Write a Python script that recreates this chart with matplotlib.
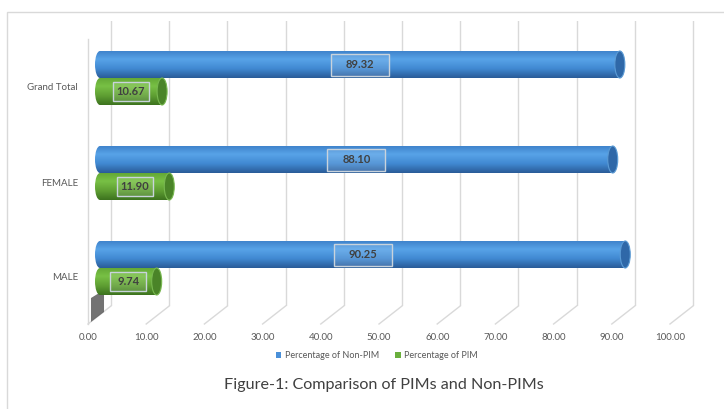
import matplotlib
matplotlib.use("Agg")
import matplotlib.pyplot as plt
import numpy as np
from matplotlib.patches import Rectangle, Ellipse, Polygon, Patch
from matplotlib.colors import LinearSegmentedColormap

# data
categories = ["MALE", "FEMALE", "Grand Total"]
non_pim = [90.25, 88.10, 89.32]
pim = [9.74, 11.90, 10.67]
ticks = [0, 10, 20, 30, 40, 50, 60, 70, 80, 90, 100]
tick_labels = ["0.00", "10.00", "20.00", "30.00", "40.00", "50.00",
               "60.00", "70.00", "80.00", "90.00", "100.00"]
series_names = ["Percentage of Non-PIM", "Percentage of PIM"]
title = "Figure-1: Comparison of PIMs and Non-PIMs"

plt.rcParams["font.family"] = ["Lato", "DejaVu Sans"]

W, H = 724, 409
fig = plt.figure(figsize=(W / 100, H / 100), dpi=100)
ax = fig.add_axes([60 / W, (H - 306) / H, 640 / W, 285 / H])

PX = 5.82   # pixels per percent
PY = 95.0   # pixels per category
xmin = -40 / PX
ax.set_xlim(xmin, xmin + 640 / PX)
ymin = -38 / PY
ax.set_ylim(ymin, ymin + 285 / PY)
ax.axis("off")

# pseudo 3d depth offsets
BACK_DX = 11 / PX
FRONT_DX = -12 / PX
FRONT_DY = -18 / PY
BAR_H = 27 / PY
CAP_W = 10 / PX

grid_col = "#d9d9d9"
# back wall grid lines + floor lines
for v in ticks:
    ax.plot([v + BACK_DX, v + BACK_DX], [ymin, ymin + 285 / PY], color=grid_col, lw=1, zorder=1)
    ax.plot([v + BACK_DX, v + FRONT_DX], [ymin, ymin + FRONT_DY], color=grid_col, lw=1, zorder=1,
            clip_on=False)
# left wall front edge
ax.plot([FRONT_DX, FRONT_DX], [ymin + FRONT_DY, ymin + 285 / PY + FRONT_DY], color=grid_col, lw=1,
        zorder=1, clip_on=False)
# dark sliver near the floor (part of the 3d wall rendering)
ax.add_patch(Polygon([(-1.55, -0.316), (0.69, -0.232), (0.69, -0.463), (-1.55, -0.568)],
                     closed=True, facecolor="#5a5a5a", edgecolor="none", alpha=0.85, zorder=2,
                     clip_on=False))

blue_cmap = LinearSegmentedColormap.from_list(
    "b", [(0, "#3f84cc"), (0.3, "#58a3e8"), (0.65, "#4189d2"), (1, "#2a5c98")])
green_cmap = LinearSegmentedColormap.from_list(
    "g", [(0, "#64a936"), (0.3, "#78c045"), (0.65, "#5f9f33"), (1, "#3d731f")])
grad = np.linspace(0, 1, 64).reshape(-1, 1)


def cylinder(val, yc, cmap, face, rim):
    yb, yt = yc - BAR_H / 2, yc + BAR_H / 2
    body = Rectangle((0, yb), val, BAR_H, transform=ax.transData, fc="none", ec="none")
    im = ax.imshow(grad, cmap=cmap, aspect="auto", extent=[0, val, yb, yt],
                   origin="upper", zorder=3, interpolation="bilinear")
    im.set_clip_path(body)
    left = Ellipse((0, yc), CAP_W, BAR_H, transform=ax.transData, fc="none", ec="none")
    im2 = ax.imshow(grad, cmap=cmap, aspect="auto", extent=[-CAP_W / 2, CAP_W / 2, yb, yt],
                    origin="upper", zorder=3, interpolation="bilinear")
    im2.set_clip_path(left)
    ax.add_patch(Ellipse((val, yc), CAP_W, BAR_H, facecolor=face, edgecolor=rim, lw=0.8, zorder=4))


def value_label(val, yc, bw, bh):
    ax.add_patch(Rectangle((val / 2 - bw / PX / 2, yc - bh / PY / 2), bw / PX, bh / PY,
                           facecolor="white", alpha=0.12, edgecolor="none", zorder=5))
    ax.add_patch(Rectangle((val / 2 - bw / PX / 2, yc - bh / PY / 2), bw / PX, bh / PY,
                           fill=False, edgecolor="#c9d3dc", lw=1, zorder=5))
    ax.text(val / 2, yc, "{:.2f}".format(val), ha="center", va="center", fontsize=8,
            fontweight="bold", color="#404040", zorder=6)


for i, cat in enumerate(categories):
    yb_c = i + BAR_H / 2
    yg_c = i - BAR_H / 2
    cylinder(non_pim[i], yb_c, blue_cmap, "#2f68a8", "#5b9bd5")
    cylinder(pim[i], yg_c, green_cmap, "#4a8428", "#78b850")
    value_label(non_pim[i], yb_c, 58, 22)
    value_label(pim[i], yg_c, 36, 19)
    ax.text(-22 / PX, i - 10 / PY, cat, ha="right", va="center", fontsize=7, color="#595959")

for v, lab in zip(ticks, tick_labels):
    ax.text(v + FRONT_DX, -69 / PY, lab, ha="center", va="center", fontsize=7, color="#595959",
            clip_on=False)

handles = [Patch(facecolor="#4a90d9", label=series_names[0]),
           Patch(facecolor="#6aaf3d", label=series_names[1])]
fig.legend(handles=handles, loc="center", bbox_to_anchor=(377 / W, 1 - 356 / H), ncol=2,
           frameon=False, fontsize=6.5, handlelength=0.6, handleheight=0.6,
           handletextpad=0.4, columnspacing=1.8, labelcolor="#595959")

fig.text(384 / W, 1 - 385 / H, title, ha="center", va="center", fontsize=11.6, color="#404040")

fig.patches.append(Rectangle((7 / W, -0.1), 1.0, 1.1 - 12 / H, transform=fig.transFigure,
                             fill=False, edgecolor="#d9d9d9", lw=1))

fig.savefig("out.png", dpi=100)
